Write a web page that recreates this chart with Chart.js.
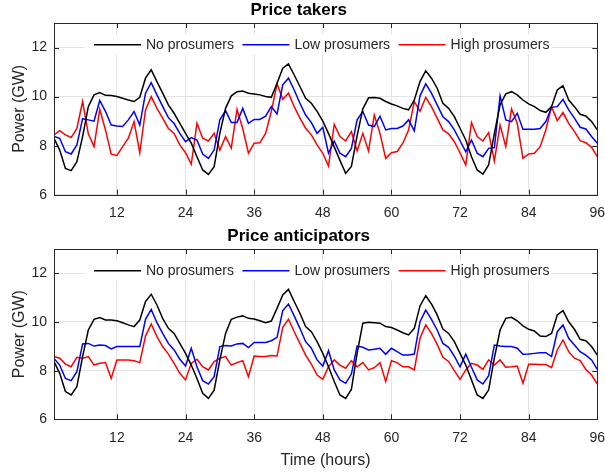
<!DOCTYPE html>
<html>
<head>
<meta charset="utf-8">
<script src="https://cdn.jsdelivr.net/npm/chart.js@4/dist/chart.umd.min.js"></script>
<style>
  html, body { margin: 0; background: #fff; }
  #wrap { position: relative; width: 605px; height: 476px; overflow: hidden; }
  #wrap canvas { position: absolute; left: 0; }
</style>
</head>
<body>
<div id="wrap">
  <canvas id="cTop" width="605" height="225" style="top:0"></canvas>
  <canvas id="cBot" width="605" height="254" style="top:222px"></canvas>
</div>
<script>
/* Two stacked panels: price takers vs price anticipators (96 h). */
const hours = Array.from({ length: 96 }, (_, i) => i + 1);
const xTicks = [12, 24, 36, 48, 60, 72, 84, 96];
const yTicks = [6, 8, 10, 12];
const seriesNames = ['No prosumers', 'Low prosumers', 'High prosumers'];

// Price takers (GW)
const takersNo = [8.30,7.82,7.07,6.98,7.35,8.37,9.59,10.07,10.16,10.05, 10.04,10.00,9.93,9.86,9.80,9.97,10.75,11.09,10.61,10.14,
  9.66,9.32,8.91,8.50,8.10,7.55,7.01,6.83,7.14,8.50, 9.52,10.03,10.20,10.23,10.14,10.11,10.07,10.00,9.97,10.54,
  11.16,11.33,10.88,10.41,9.93,9.73,9.40,9.00,8.50,7.95, 7.40,6.87,7.15,8.40,9.50,9.95,9.96,9.93,9.80,9.70,
  9.62,9.52,9.46,9.86,10.61,11.05,10.75,10.34,9.73,9.52, 9.18,8.71,8.23,7.55,7.01,6.84,7.21,8.50,9.66,10.11,
  10.20,10.07,9.86,9.70,9.59,9.43,9.36,9.59,10.27,10.44, 9.86,9.59,9.28,9.21,8.98,8.64];
const takersLow = [8.37,8.30,7.75,7.66,8.03,9.10,9.05,9.00,9.84,9.40, 8.84,8.80,8.78,9.05,9.39,8.84,10.14,10.57,10.07,9.60,
  9.14,8.90,8.50,8.16,8.33,8.23,7.66,7.48,7.82,9.05, 9.43,8.94,8.94,9.52,8.91,9.07,9.07,9.20,9.59,9.29,
  10.48,10.75,10.27,9.73,9.25,8.94,8.50,8.75,7.69,8.19, 7.69,7.55,7.89,9.05,9.39,8.84,8.78,9.20,8.64,8.70,
  8.70,8.80,9.05,8.60,10.03,10.52,10.14,9.66,9.18,8.98, 8.64,8.20,7.75,8.23,7.69,7.55,7.89,7.92,10.03,9.05,
  8.98,9.32,8.67,8.67,8.67,8.70,8.98,9.56,9.59,9.89, 9.46,9.12,8.75,8.68,8.37,8.10];
const takersHigh = [8.44,8.61,8.44,8.33,8.70,9.80,8.48,7.96,9.48,8.64, 7.65,7.60,7.96,8.30,8.98,7.71,9.46,10.00,9.52,9.12,
  8.70,8.50,8.03,7.71,7.24,8.91,8.30,8.19,8.50,7.82, 8.37,7.90,9.48,8.70,7.69,8.10,8.12,8.50,9.39,10.52,
  9.89,10.14,9.59,9.12,8.71,8.44,8.03,7.69,7.17,8.87, 8.37,8.19,8.57,7.78,8.50,7.78,9.25,8.50,7.48,7.71,
  7.76,8.10,8.64,9.80,9.40,9.97,9.59,9.12,8.64,8.48, 8.16,7.71,7.21,8.94,8.37,8.19,8.53,7.37,8.84,7.96,
  9.50,8.91,7.48,7.66,7.69,7.96,8.64,9.59,9.02,9.35, 8.91,8.57,8.20,8.12,7.93,7.55];

// Price anticipators (GW)
const anticNo = [8.37,7.89,7.14,7.00,7.34,8.58,9.67,10.11,10.18,10.08, 10.08,10.05,9.97,9.88,9.81,10.08,10.84,11.14,10.70,10.15,
  9.74,9.53,9.12,8.71,8.23,7.68,7.07,6.86,7.20,8.44, 9.53,10.11,10.20,10.25,10.15,10.12,10.05,9.97,10.04,10.56,
  11.11,11.34,10.84,10.36,9.81,9.60,9.19,8.71,8.16,7.55, 7.00,6.86,7.23,8.71,9.95,9.99,9.97,9.95,9.81,9.77,
  9.67,9.56,9.47,9.74,10.66,11.08,10.74,10.29,9.71,9.53, 9.19,8.71,8.23,7.62,7.00,6.86,7.21,8.51,9.67,10.15,
  10.19,10.05,9.84,9.70,9.63,9.42,9.40,9.53,10.29,10.47, 10.01,9.70,9.29,9.23,8.99,8.64];
const anticLow = [8.50,8.23,7.68,7.59,7.96,9.10,9.12,9.01,9.05,9.03, 8.89,8.99,8.99,8.99,8.99,8.99,10.11,10.52,9.97,9.53,
  9.12,8.85,8.47,8.19,8.92,8.16,7.59,7.45,7.75,8.99, 9.03,9.01,9.10,9.12,8.95,9.16,9.16,9.16,9.23,9.37,
  10.47,10.74,10.25,9.74,9.19,8.92,8.44,8.19,8.82,8.03, 7.62,7.48,7.86,9.01,8.96,8.85,8.88,8.92,8.67,8.92,
  8.78,8.64,8.64,8.68,10.01,10.49,10.11,9.67,9.12,8.96, 8.60,8.16,8.68,8.14,7.62,7.45,7.79,9.05,9.01,8.99,
  8.99,8.92,8.67,8.68,8.71,8.74,8.74,8.58,9.60,9.88, 9.33,9.05,8.78,8.64,8.44,8.05];
const anticHigh = [8.58,8.51,8.27,8.16,8.55,8.51,8.58,8.23,8.30,8.33, 7.68,8.44,8.44,8.44,8.41,8.33,9.42,9.92,9.40,8.99,
  8.68,8.30,7.89,7.62,8.30,8.47,8.16,8.03,8.37,8.51, 8.58,8.23,8.33,8.41,7.75,8.60,8.58,8.58,8.62,8.60,
  9.78,10.11,9.60,9.12,8.64,8.27,7.82,7.64,8.16,8.44, 8.23,8.10,8.41,8.16,8.33,8.03,8.12,8.33,7.55,8.41,
  8.33,8.16,8.16,8.03,9.33,9.88,9.53,9.08,8.55,8.38, 8.00,7.64,8.03,8.30,8.23,8.05,8.44,8.23,8.44,8.14,
  8.16,8.19,7.48,8.26,8.26,8.25,8.25,8.12,8.85,9.26, 8.78,8.51,8.41,8.05,7.82,7.45];

const FONT = "'Liberation Sans', Arial, Helvetica, sans-serif";
const COLORS = ['#000000', '#0000ff', '#ff0000'];
const AXIS = '#262626';

// MATLAB-like frame: box, inward ticks, legend inside the top of the axes.
const frame = {
  id: 'frame',
  afterDraw(chart) {
    const { ctx, chartArea: a, scales: { x, y } } = chart;
    ctx.save();
    ctx.strokeStyle = AXIS; ctx.lineWidth = 1;
    ctx.beginPath();
    xTicks.forEach(v => { const px = Math.round(x.getPixelForValue(v)) + 0.5;
      ctx.moveTo(px, a.bottom); ctx.lineTo(px, a.bottom - 5); ctx.moveTo(px, a.top); ctx.lineTo(px, a.top + 5); });
    yTicks.forEach(v => { const py = Math.round(y.getPixelForValue(v)) + 0.5;
      ctx.moveTo(a.left, py); ctx.lineTo(a.left + 5, py); ctx.moveTo(a.right, py); ctx.lineTo(a.right - 5, py); });
    ctx.stroke();
    ctx.strokeRect(Math.round(a.left) + 0.5, Math.round(a.top) + 0.5, Math.round(a.right - a.left), Math.round(a.bottom - a.top));

    // legend
    const cy = a.top + 21.7;
    ctx.fillStyle = '#fff';
    ctx.fillRect(85, cy - 10, 467, 20);
    ctx.font = '14px ' + FONT;
    ctx.textBaseline = 'middle';
    let lx = 94;
    chart.data.datasets.forEach(ds => {
      ctx.strokeStyle = ds.borderColor; ctx.lineWidth = 1.5;
      ctx.beginPath(); ctx.moveTo(lx, cy); ctx.lineTo(lx + 47, cy); ctx.stroke();
      ctx.fillStyle = AXIS;
      ctx.fillText(ds.label, lx + 52, cy + 0.5);
      lx += 52 + ctx.measureText(ds.label).width + 8.5;
    });
    ctx.restore();
  }
};

function panel(id, title, series, opt) {
  return new Chart(document.getElementById(id), {
    type: 'line',
    data: {
      datasets: series.map((s, i) => ({
        label: seriesNames[i],
        data: hours.map((h, k) => ({ x: h, y: s[k] })),
        borderColor: COLORS[i], borderWidth: 1.5, pointRadius: 0, tension: 0, fill: false,
      })),
    },
    options: {
      responsive: false, animation: false, devicePixelRatio: 1,
      layout: { padding: { left: 0, right: 7.7, top: 0, bottom: 0 } },
      plugins: {
        legend: { display: false }, tooltip: { enabled: false },
        title: { display: true, text: title, color: '#000', font: { family: FONT, size: 17, weight: 'bold', lineHeight: 1 },
          padding: { top: opt.titleTop, bottom: opt.titleBottom } },
      },
      scales: {
        x: {
          type: 'linear', min: 1, max: 96,
          afterBuildTicks: s => { s.ticks = xTicks.map(v => ({ value: v })); },
          afterFit: s => { s.height = opt.xHeight; s.paddingLeft = 0; s.paddingRight = 0; },
          grid: { color: '#e3e3e3', drawTicks: false }, border: { display: false },
          ticks: { color: AXIS, font: { family: FONT, size: 14 }, padding: 10, maxRotation: 0, autoSkip: false },
          title: { display: !!opt.xTitle, text: opt.xTitle || '', color: AXIS, font: { family: FONT, size: 16 }, padding: { top: 0, bottom: 5.5 } },
        },
        y: {
          min: 6, max: 13,
          afterBuildTicks: s => { s.ticks = yTicks.map(v => ({ value: v })); },
          afterFit: s => { s.width = 54; s.paddingTop = 0; s.paddingBottom = 0; },
          grid: { color: '#e3e3e3', drawTicks: false }, border: { display: false },
          ticks: { color: AXIS, font: { family: FONT, size: 14 }, padding: 7 },
          title: { display: true, text: 'Power (GW)', color: AXIS, font: { family: FONT, size: 16 }, padding: { top: 9.5, bottom: 0 } },
        },
      },
    },
    plugins: [frame],
  });
}

panel('cTop', 'Price takers', [takersNo, takersLow, takersHigh], { titleTop: 2, titleBottom: 4, xHeight: 30.3 });
panel('cBot', 'Price anticipators', [anticNo, anticLow, anticHigh], { titleTop: 6, titleBottom: 4, xHeight: 56.7, xTitle: 'Time (hours)' });
</script>
</body>
</html>
